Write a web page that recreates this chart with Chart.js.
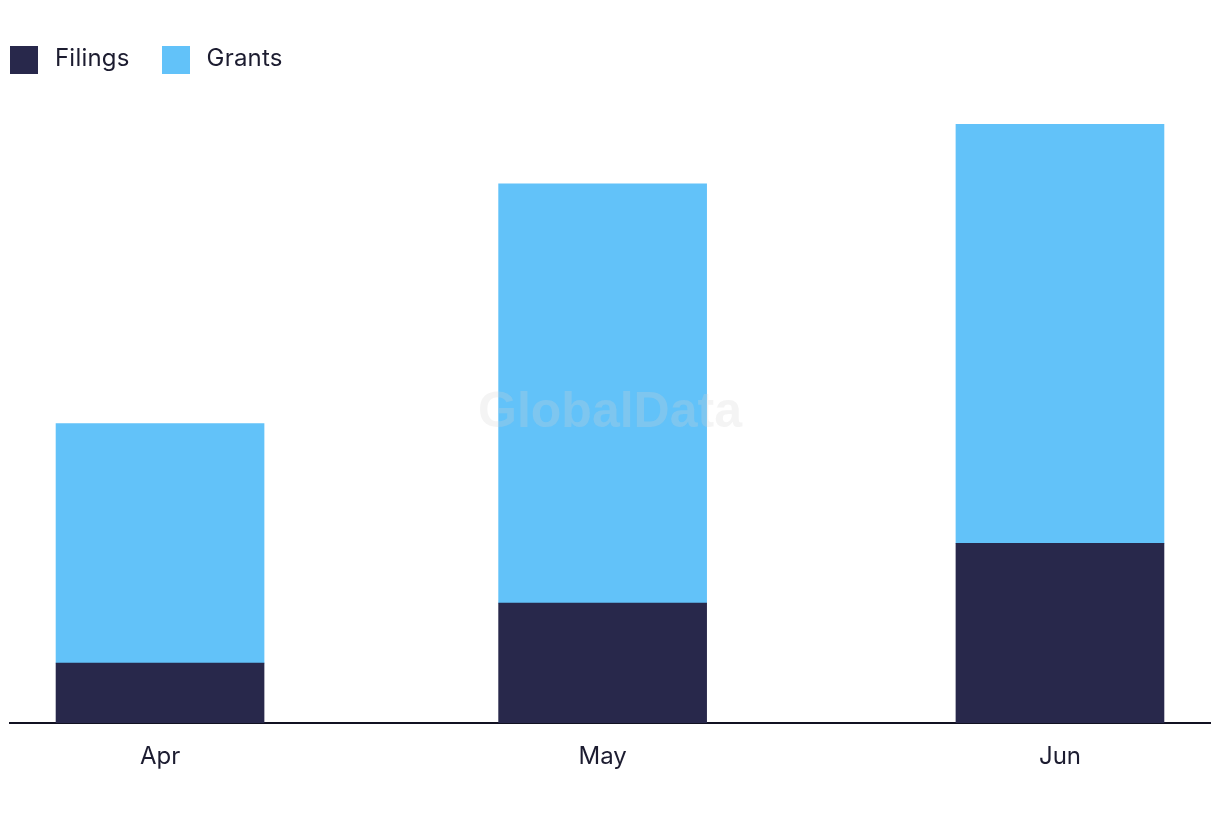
<!DOCTYPE html>
<html>
<head>
<meta charset="utf-8">
<script src="https://cdn.jsdelivr.net/npm/chart.js@4/dist/chart.umd.min.js"></script>
<style>
  html, body { margin: 0; padding: 0; background: #ffffff; }
  #wrap { position: relative; width: 1220px; height: 822px; }
  #legend { position: absolute; left: 10px; top: 46px; display: flex; align-items: flex-start;
            font-family: Inter, "Open Sans", sans-serif; font-size: 24px; color: #1c1c30; }
  .item { display: flex; align-items: flex-start; margin-right: 32px; }
  .box { width: 28px; height: 28px; margin-right: 17px; }
  .lbl { line-height: 24px; margin-top: 0px; letter-spacing: 0.2px; }
</style>
</head>
<body>
<div id="wrap">
  <canvas id="c" width="1220" height="822"></canvas>
  <div id="legend"></div>
</div>
<script>
const categories = ['Apr', 'May', 'Jun'];
const dayOffsets = [0, 30, 61];          // days since 1 Apr (time-based x positions)
const filings = [1, 2, 3];
const grants = [4, 7, 7];
const seriesNames = ['Filings', 'Grants'];
const seriesColors = ['#28284b', '#62c2f9'];

const legend = document.getElementById('legend');
seriesNames.forEach((n, i) => {
  const it = document.createElement('div'); it.className = 'item';
  const b = document.createElement('div'); b.className = 'box'; b.style.background = seriesColors[i];
  const t = document.createElement('span'); t.className = 'lbl'; t.textContent = n;
  it.appendChild(b); it.appendChild(t); legend.appendChild(it);
});

const watermark = {
  id: 'watermark',
  afterDatasetsDraw(chart) {
    const ctx = chart.ctx;
    ctx.save();
    ctx.font = 'bold 50px "Liberation Sans", Arial, sans-serif';
    ctx.fillStyle = 'rgba(210,210,210,0.25)';
    ctx.textAlign = 'center';
    ctx.textBaseline = 'middle';
    ctx.fillText('GlobalData', 610, 413);
    ctx.restore();
  }
};

new Chart(document.getElementById('c'), {
  type: 'bar',
  data: {
    datasets: [
      { label: seriesNames[0], data: dayOffsets.map((x, i) => ({ x, y: filings[i] })),
        backgroundColor: seriesColors[0], barThickness: 208 },
      { label: seriesNames[1], data: dayOffsets.map((x, i) => ({ x, y: grants[i] })),
        backgroundColor: seriesColors[1], barThickness: 208 }
    ]
  },
  options: {
    responsive: false,
    animation: false,
    layout: { padding: { left: 10, right: 10, top: 124, bottom: 0 } },
    plugins: { legend: { display: false }, tooltip: { enabled: false } },
    scales: {
      x: {
        type: 'linear', stacked: true, min: -10.17, max: 71.17, offset: false,
        grid: { display: false, drawTicks: false, offset: false },
        border: { display: true, color: '#111122', width: 2 },
        afterBuildTicks: s => { s.ticks = dayOffsets.map(v => ({ value: v })); },
        afterFit: s => { s.height = 99; },
        ticks: {
          padding: 19, color: '#1c1c30',
          font: { family: 'Inter, "Open Sans", sans-serif', size: 24 },
          callback: v => categories[dayOffsets.indexOf(v)] ?? ''
        }
      },
      y: { stacked: true, min: 0, max: 10, display: false }
    }
  },
  plugins: [watermark]
});
</script>
</body>
</html>
